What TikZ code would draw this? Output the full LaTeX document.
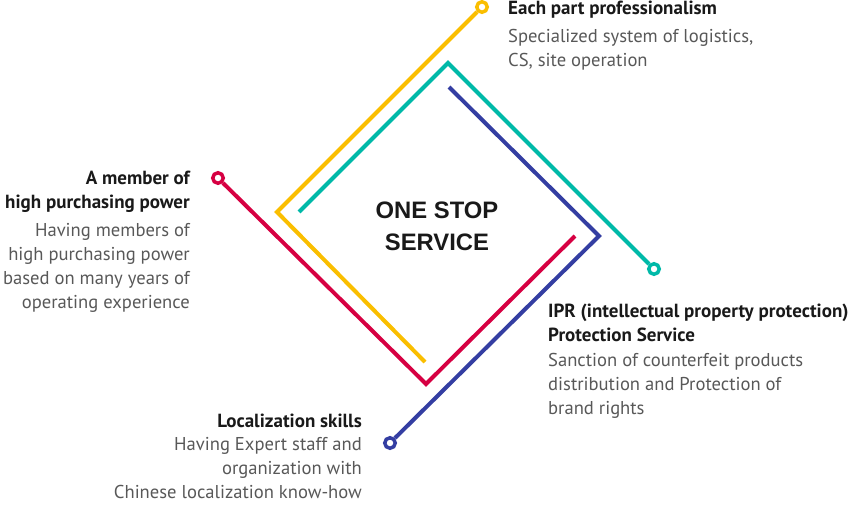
\documentclass[tikz,border=0pt]{standalone}
\usepackage{fontspec}
\setmainfont{PT Sans}
\newfontfamily\headfont{Liberation Sans}
\usetikzlibrary{positioning}
\definecolor{gold}{RGB}{250,190,0}
\definecolor{teal}{RGB}{0,185,168}
\definecolor{navy}{RGB}{52,62,162}
\definecolor{crimson}{RGB}{214,0,66}
\definecolor{ink}{RGB}{25,25,25}
\definecolor{greytext}{RGB}{88,88,88}

\begin{document}
\begin{tikzpicture}[x=1pt,y=-1pt,
	dot/.style={circle,draw=#1,line width=3.5pt,minimum size=10.5pt,inner sep=0pt},
	head/.style={inner sep=0pt,text=ink,font=\fontsize{19}{24}\selectfont\bfseries},
	desc/.style={inner sep=0pt,text=greytext,font=\fontsize{18.6}{24}\selectfont}]
	\useasboundingbox (0,0) rectangle (852,506);

	% end circles
	\node[dot=gold] (golddot) at (482,7) {};
	\node[dot=teal] (tealdot) at (654,269) {};
	\node[dot=navy] (navydot) at (390,443) {};
	\node[dot=crimson] (crimsondot) at (218,178) {};

	% corners and free ends
	\coordinate (goldbend) at (277,212);
	\coordinate (goldend) at (425,362);
	\coordinate (tealbend) at (448,63);
	\coordinate (tealend) at (299,212);
	\coordinate (navybend) at (599,236);
	\coordinate (navyend) at (449,87);
	\coordinate (crimsonbend) at (426,384);
	\coordinate (crimsonend) at (575,236);

	\begin{scope}[line width=4pt,miter limit=4]
		\draw[gold] (golddot) -- (goldbend) -- (goldend);
		\draw[teal] (tealdot) -- (tealbend) -- (tealend);
		\draw[navy] (navydot) -- (navybend) -- (navyend);
		\draw[crimson] (crimsondot) -- (crimsonbend) -- (crimsonend);
	\end{scope}

	% multi-line nodes: base is the last line
	\node[align=center,text=ink,font=\headfont\bfseries\fontsize{23.8}{32}\selectfont,
		anchor=base] (onestop) at (437,250) {ONE STOP\\SERVICE};

	% texts
	\node[head,anchor=base west] (each) at (508,15) {Each part professionalism};
	\node[desc,align=left,anchor=base west] (eachdesc) at (508,66.7)
		{Specialized system of logistics,\\CS, site operation};

	\node[head,align=right,anchor=base east] (member) at (190,208)
		{A member of\\high purchasing power};
	\node[desc,align=right,anchor=base east] (memberdesc) at (190,308)
		{Having members of\\high purchasing power\\based on many years of\\operating experience};

	\node[head,anchor=base east] (local) at (362,427) {Localization skills};
	\node[desc,align=right,anchor=base east] (localdesc) at (362,498)
		{Having Expert staff and\\organization with\\Chinese localization know-how};

	\node[head,align=left,anchor=base west] (ipr) at (548,341.7)
		{IPR (intellectual property protection)\\Protection Service};
	\node[desc,align=left,anchor=base west] (iprdesc) at (548,414)
		{Sanction of counterfeit products\\distribution and Protection of\\brand rights};
\end{tikzpicture}
\end{document}
